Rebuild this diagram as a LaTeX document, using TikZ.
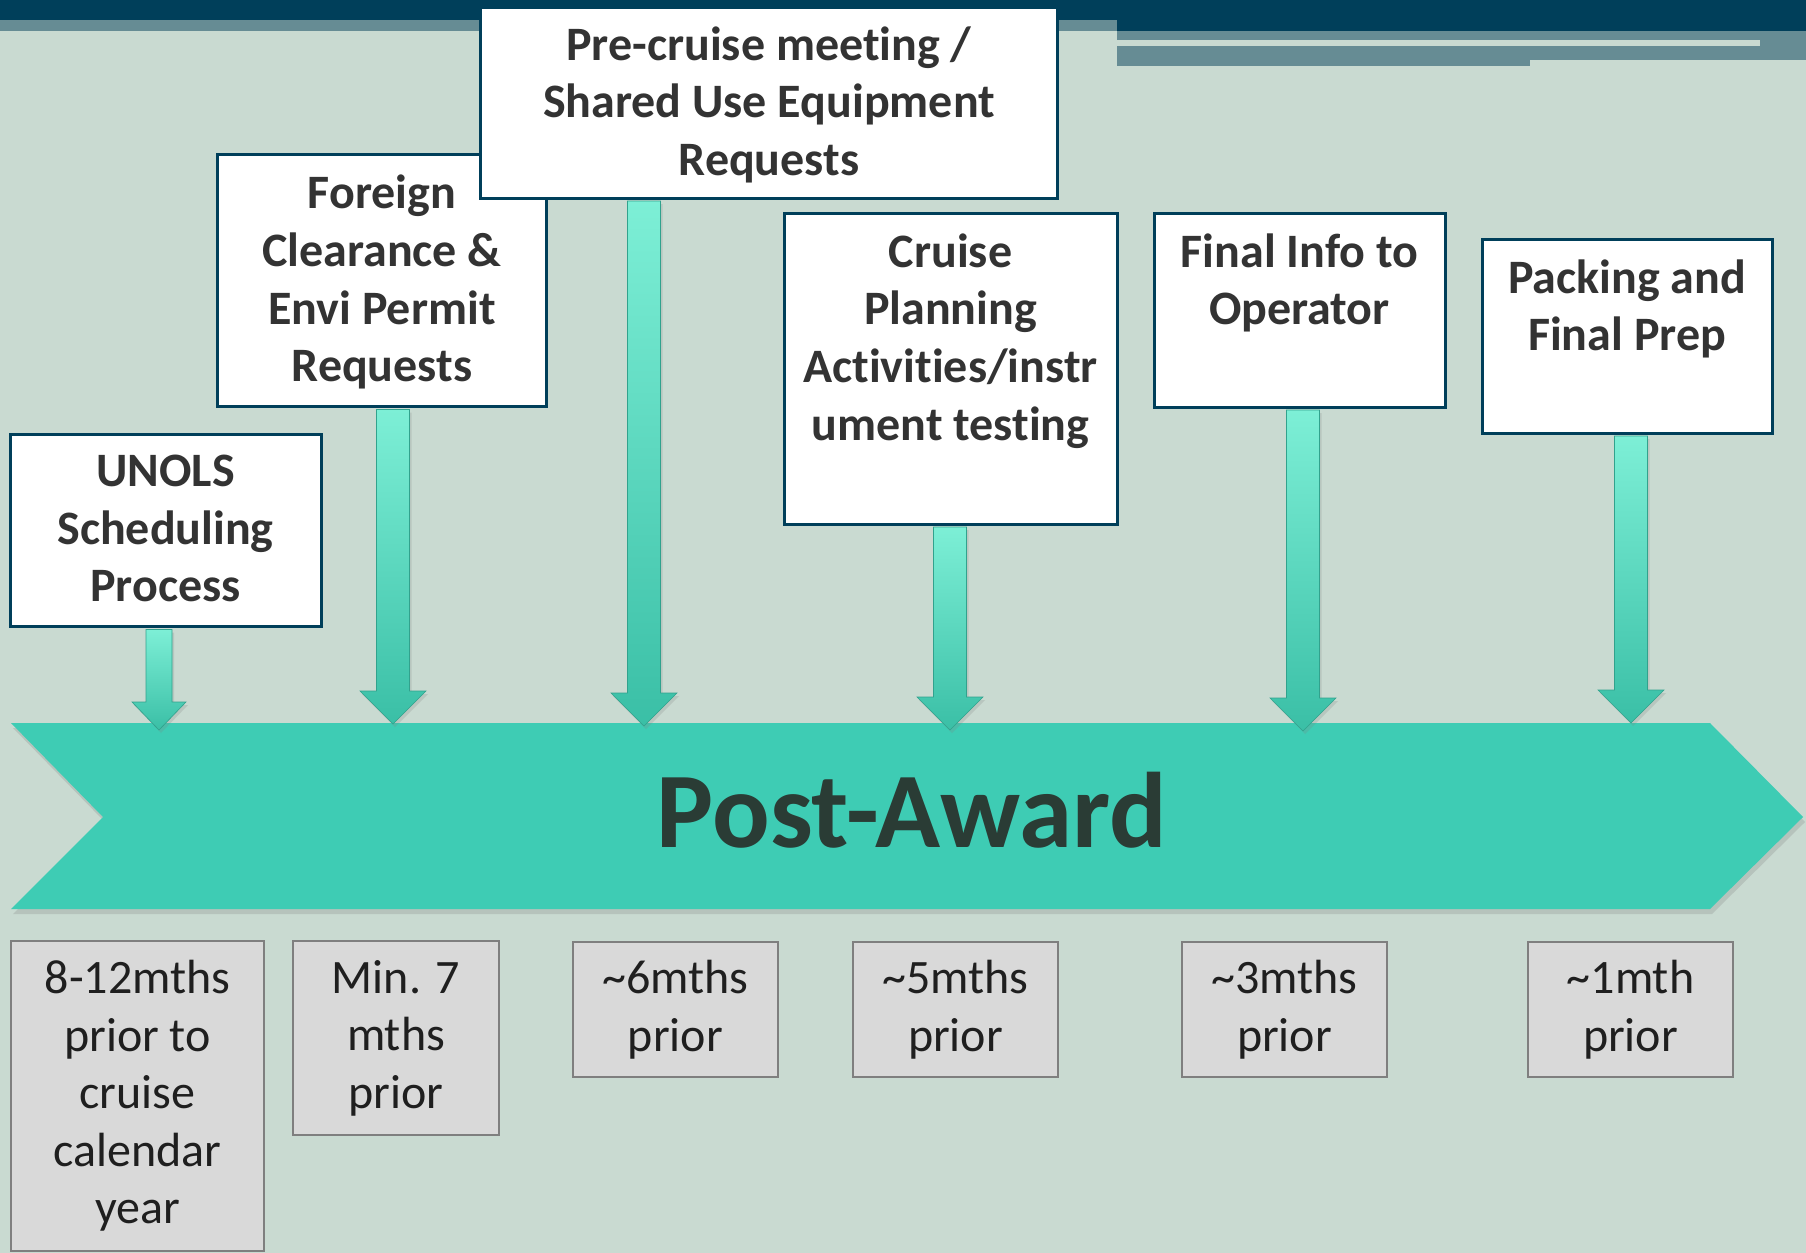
\documentclass[tikz,border=0pt]{standalone}
\usepackage{fontspec}
\setmainfont{Carlito}[Ligatures=NoCommon]
\usetikzlibrary{shadows,calc}
\definecolor{bgc}{HTML}{C9DAD1}
\definecolor{navy}{HTML}{003F5A}
\definecolor{slate}{HTML}{668C94}
\definecolor{tealc}{HTML}{3ECCB4}
\definecolor{arrtop}{HTML}{7DEFD6}
\definecolor{arrbot}{HTML}{3ABFA6}
\definecolor{txtdark}{HTML}{333333}
\definecolor{awardtxt}{HTML}{2A3C35}
\definecolor{greyfill}{HTML}{D9D9D9}
\definecolor{greyline}{HTML}{7F7F7F}
\newcommand\flowarrow[5]{%
  \path[flow] let \p1=([yshift=-0.75pt]#1.south), \p2=(#2) in
    (\x2-#3,\y1) -- (\x2-#3,\y2+#5) -- (\x2-#4,\y2+#5) -- (\x2,\y2) --
    (\x2+#4,\y2+#5) -- (\x2+#3,\y2+#5) -- (\x2+#3,\y1) -- cycle;}
\begin{document}
\begin{tikzpicture}[x=0.5pt,y=-0.5pt,
  stepbox/.style={draw=navy, line width=1.5pt, fill=white, inner sep=0pt, anchor=north west},
  steptext/.style={font=\fontsize{24}{28.8}\selectfont\bfseries, text=txtdark, align=center,
    inner sep=0pt, anchor=north, execute at begin node=\strut},
  timebox/.style={draw=greyline, line width=1pt, fill=greyfill, anchor=north west, align=center,
    inner sep=0pt, font=\fontsize{24}{28.75}\selectfont, text=black!88},
  flow/.style={top color=arrtop, bottom color=arrbot, draw=arrbot!85!black, line width=0.3pt,
    drop shadow={opacity=0.22, shadow xshift=1pt, shadow yshift=-1.5pt}},
  chev/.style={fill=tealc, drop shadow={opacity=0.25, shadow xshift=1pt, shadow yshift=-2.5pt}},
]
\useasboundingbox (0,0) rectangle (1806,1253);
% background
\fill[bgc] (0,0) rectangle (1806,1253);
% top banner
\fill[slate] (0,20) rectangle (1117,31);
\fill[navy] (0,0) rectangle (1806,20);
\fill[navy] (1117,0) rectangle (1806,31);
\fill[slate] (1117,31) rectangle (1806,60);
\fill[slate] (1117,60) rectangle (1530,66);
\fill[bgc] (1117,40) rectangle (1760,46);

% chevron
\path[chev] (11,723) -- (1710,723) -- (1803,817) -- (1710,909) -- (11,909) -- (103,817) -- cycle;
\node[font=\fontsize{53.7}{60}\selectfont\bfseries, text=awardtxt, anchor=base, inner sep=0pt]
  (award) at (912,847) {Post-Award};

% tip coordinates on the chevron
\coordinate (t1) at (159,730);
\coordinate (t2) at (393,724);
\coordinate (t3) at (644,726);
\coordinate (t4) at (950,730);
\coordinate (t5) at (1303,731);
\coordinate (t6) at (1631,723);

% step boxes
\node[stepbox, minimum width=155.5pt, minimum height=96pt] (unols) at (8.5,433) {};
\node[steptext] (unolst) at ([yshift=-10.9pt]unols.north) {UNOLS\\Scheduling\\Process};

\node[stepbox, minimum width=164.5pt, minimum height=126pt] (foreign) at (216,153) {};
\node[steptext] (foreignt) at ([yshift=-10.9pt]foreign.north) {Foreign\\Clearance \&\\Envi Permit\\Requests};

\node[stepbox, minimum width=288.5pt, minimum height=95.5pt] (precruise) at (479,5.5) {};
\node[steptext] (precruiset) at ([yshift=-10.4pt]precruise.north) {Pre-cruise meeting /\\Shared Use Equipment\\Requests};

\node[stepbox, minimum width=166.5pt, minimum height=155.5pt] (cruise) at (782.5,211.5) {};
\node[steptext] (cruiset) at ([yshift=-10.9pt]cruise.north) {Cruise\\Planning\\Activities/instr\\ument testing};

\node[stepbox, minimum width=145.5pt, minimum height=97pt] (final) at (1152.5,211.5) {};
\node[steptext] (finalt) at ([yshift=-10.9pt]final.north) {Final Info to\\Operator};

\node[stepbox, minimum width=145pt, minimum height=97pt] (packing) at (1480.5,237.5) {};
\node[steptext] (packingt) at ([yshift=-10.9pt]packing.north) {Packing and\\Final Prep};

% arrows from boxes to the chevron
\flowarrow{unols}{t1}{6.5pt}{13.5pt}{14pt}
\flowarrow{foreign}{t2}{8.25pt}{16.5pt}{16.5pt}
\flowarrow{precruise}{t3}{8.25pt}{16.5pt}{16.5pt}
\flowarrow{cruise}{t4}{8.25pt}{16.5pt}{16.5pt}
\flowarrow{final}{t5}{8.25pt}{16.5pt}{16.5pt}
\flowarrow{packing}{t6}{8.25pt}{16.5pt}{16.5pt}

% timing boxes
\node[timebox, minimum width=126.5pt, minimum height=155pt] (g1) at (10,940) {8-12mths\\prior to\\cruise\\calendar\\year};
\node[timebox, minimum width=103pt, minimum height=97pt] (g2) at (292,940) {Min. 7\\mths\\prior};
\node[timebox, minimum width=102.5pt, minimum height=67.5pt] (g3) at (572,941) {\textasciitilde6mths\\prior};
\node[timebox, minimum width=102.5pt, minimum height=67.5pt] (g4) at (852,941) {\textasciitilde5mths\\prior};
\node[timebox, minimum width=102.5pt, minimum height=67.5pt] (g5) at (1181,941) {\textasciitilde3mths\\prior};
\node[timebox, minimum width=102.5pt, minimum height=67.5pt] (g6) at (1527,941) {\textasciitilde1mth\\prior};
\end{tikzpicture}
\end{document}
